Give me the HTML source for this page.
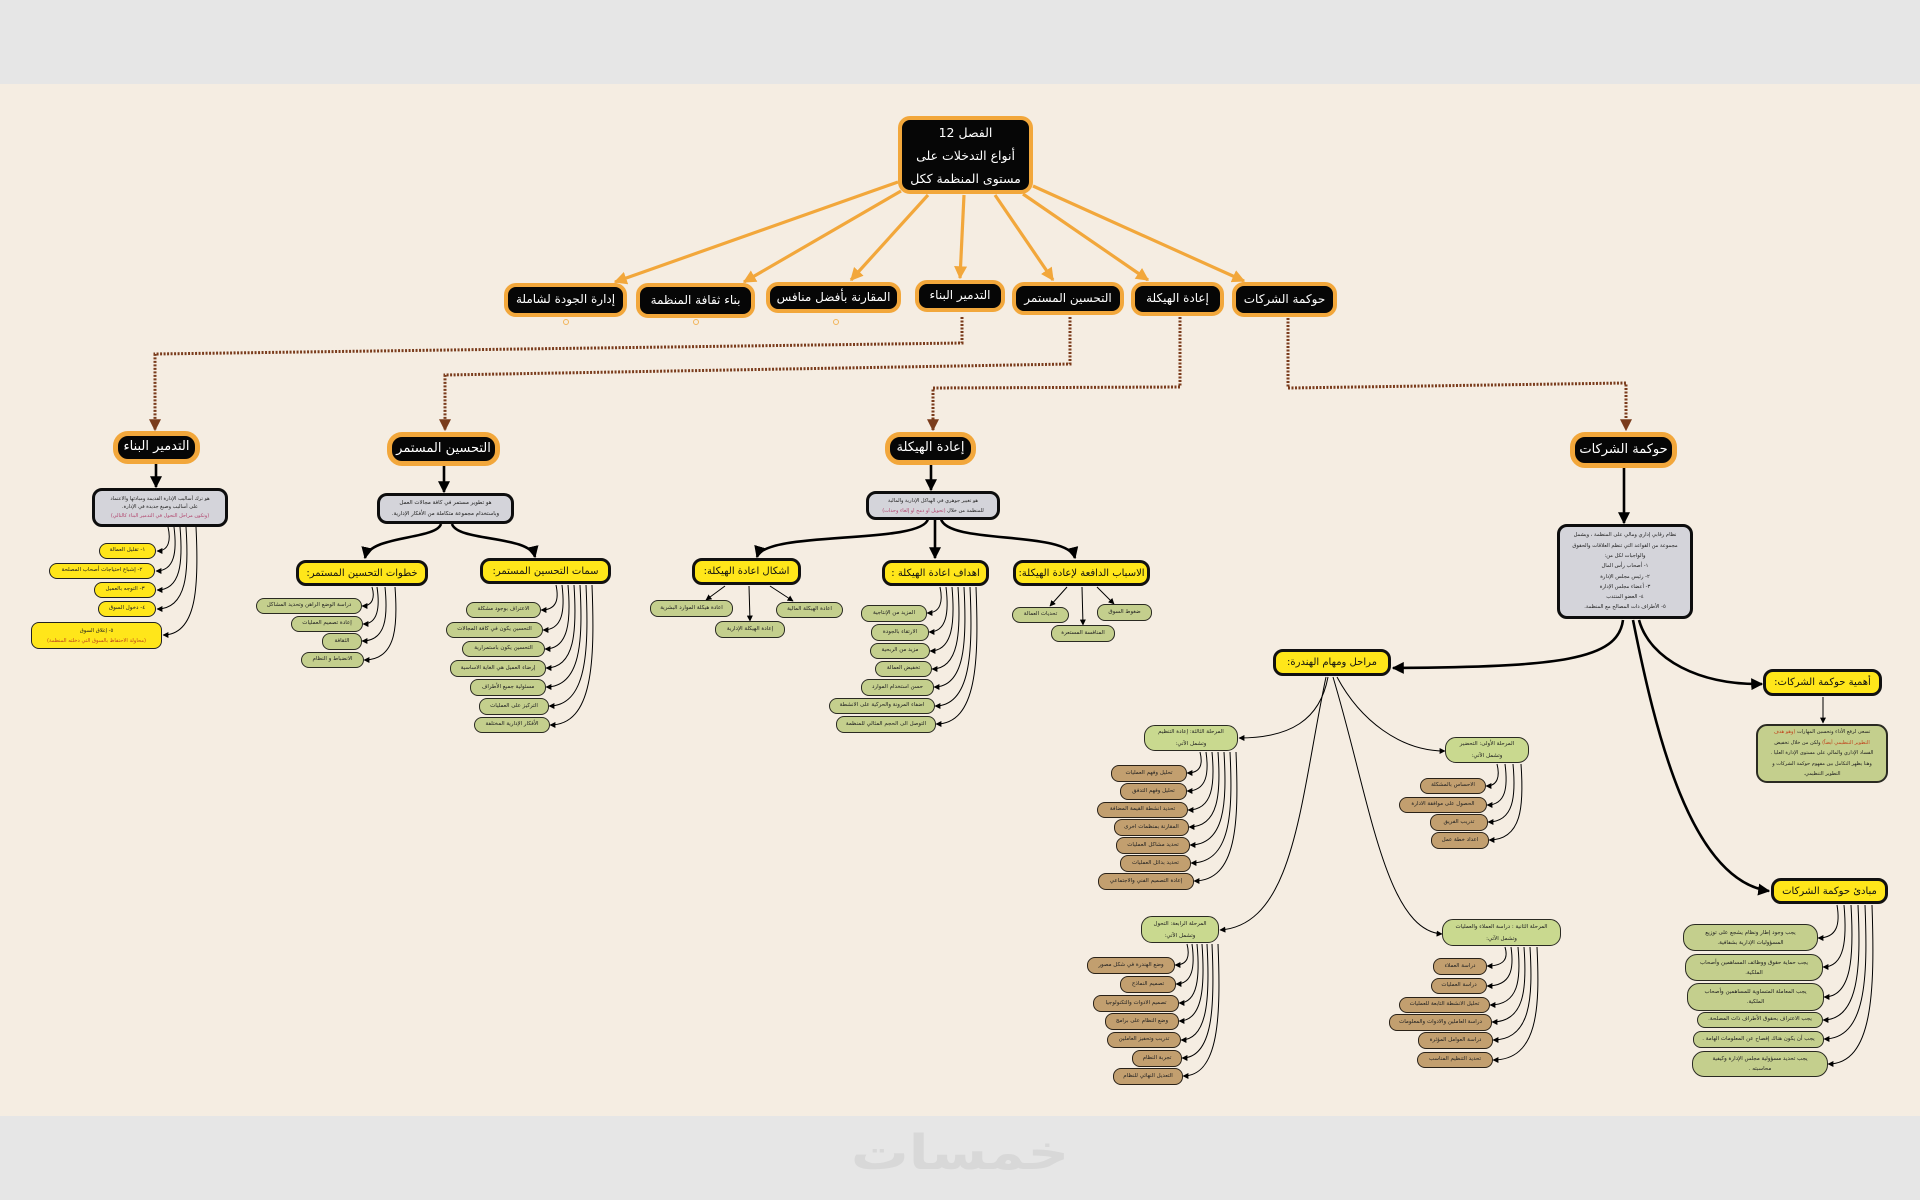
<!DOCTYPE html>
<html><head><meta charset="utf-8">
<style>
html,body{margin:0;padding:0;}
body{width:1920px;height:1200px;position:relative;overflow:hidden;background:#e6e6e6;font-family:"DejaVu Sans","Liberation Sans",sans-serif;}
#bg{position:absolute;left:0;top:84px;width:1920px;height:1032px;background:#f5ede2;}
svg{position:absolute;left:0;top:0;z-index:1}
.b{position:absolute;box-sizing:border-box;display:flex;align-items:center;justify-content:center;text-align:center;direction:rtl;z-index:2;line-height:1.3;white-space:nowrap}
.b>div{display:block;text-align:center;}
.k{background:#060606;border:4px solid #f2a73b;border-radius:12px;color:#fff;font-size:12px}
.k2{border-width:5px;border-radius:15px;font-size:13px}
.y{background:#ffe61a;border:3px solid #111;border-radius:10px;font-size:10px;color:#111}
.yi{background:#ffe61a;border:1.5px solid #222;border-radius:8px;font-size:5.5px;color:#222}
.g{background:#c4cf8d;border:1.5px solid #2a2a22;border-radius:8px;font-size:5.5px;color:#222}
.t{background:#c29f6f;border:1.5px solid #2a2218;border-radius:8px;font-size:5.5px;color:#222}
.s{background:#c9d98f;border:1.5px solid #2a2a22;border-radius:11px;font-size:5.5px;color:#222;line-height:12px}
.d{background:#d4d4da;border:3px solid #0d0d0d;border-radius:10px;font-size:5.5px;color:#222}
.r{color:#b2456e}
.o{color:#c0451e}
#wm{position:absolute;left:810px;top:1118px;width:300px;height:70px;text-align:center;font-size:48px;font-weight:bold;color:#d8d8d8;direction:rtl;transform:scaleX(1.2);line-height:70px;font-family:"DejaVu Sans",sans-serif}
</style></head>
<body>
<div id="bg"></div>
<div id="wm">خمسات</div>

<svg width="1920" height="1200" viewBox="0 0 1920 1200">
<defs>
<marker id="ao" viewBox="0 0 10 10" refX="9" refY="5" markerWidth="13" markerHeight="13" markerUnits="userSpaceOnUse" orient="auto"><path d="M0,0 L10,5 L0,10 z" fill="#f2a73b"/></marker>
<marker id="ab" viewBox="0 0 10 10" refX="9" refY="5" markerWidth="12" markerHeight="12" markerUnits="userSpaceOnUse" orient="auto"><path d="M0,0 L10,5 L0,10 z" fill="#000"/></marker>
<marker id="as" viewBox="0 0 10 10" refX="9" refY="5" markerWidth="6" markerHeight="6" markerUnits="userSpaceOnUse" orient="auto"><path d="M0,0 L10,5 L0,10 z" fill="#000"/></marker>
<marker id="abr" viewBox="0 0 10 10" refX="9" refY="5" markerWidth="12" markerHeight="12" markerUnits="userSpaceOnUse" orient="auto"><path d="M0,0 L10,5 L0,10 z" fill="#7a3c1c"/></marker>
</defs>

<g stroke="#f2a73b" stroke-width="3.2" fill="none" marker-end="url(#ao)">
<path d="M898 182 L615 282"/>
<path d="M901 191 L744 282"/>
<path d="M928 195 L851 280"/>
<path d="M964 195 L960 278"/>
<path d="M995 195 L1053 280"/>
<path d="M1023 194 L1148 280"/>
<path d="M1033 186 L1244 281"/>
</g>
<g fill="none" stroke="#f2b55a" stroke-width="1">
<circle cx="566" cy="322" r="2.5"/>
<circle cx="696" cy="322" r="2.5"/>
<circle cx="836" cy="322" r="2.5"/>
</g>

<g stroke="#7a3c1c" stroke-width="3" fill="none" stroke-dasharray="2 1.5" marker-end="url(#abr)">
<path d="M962 317 L962 343 L155 354 L155 430"/>
<path d="M1070 317 L1070 364 L445 375 L445 430"/>
<path d="M1180 317 L1180 387 L933 388 L933 430"/>
<path d="M1288 318 L1288 388 L1626 383 L1626 430"/>
</g>

<g stroke="#000" stroke-width="2.6" fill="none" marker-end="url(#ab)">
<path d="M156 464 L156 487"/>
<path d="M444 466 L444 492"/>
<path d="M931 465 L931 490"/>
<path d="M1624 468 L1624 523"/>
<path d="M441 524 C436 540,370 535,365 558"/>
<path d="M452 524 C458 542,530 535,535 557"/>
<path d="M928 519 C922 545,765 530,757 557"/>
<path d="M935 520 L935 558"/>
<path d="M941 519 C948 545,1068 530,1075 558"/>
<path d="M1623 620 C1618 660,1560 667,1393 668"/>
<path d="M1639 620 C1650 660,1700 685,1762 684"/>
<path d="M1633 620 C1655 730,1690 880,1769 891"/>
</g>

<g stroke="#000" stroke-width="1" fill="none" marker-end="url(#as)">
<path d="M725 586 L706 600"/>
<path d="M749 586 L750 621"/>
<path d="M770 586 L793 601"/>
<path d="M1067 587 L1050 606"/>
<path d="M1082 587 L1083 625"/>
<path d="M1097 587 L1114 604"/>
<path d="M1823 697 L1823 723"/>
<path d="M1328 677 C1320 720,1290 738,1239 738"/>
<path d="M1337 677 C1360 720,1400 751,1445 751"/>
<path d="M1326 677 C1300 800,1295 925,1220 930"/>
<path d="M1333 677 C1370 800,1385 930,1442 934"/>
</g>

<g stroke="#000" stroke-width="1" fill="none" marker-end="url(#as)">
<path d="M168 527 C171 540,169 551,157 551"/>
<path d="M174 527 C177 551,175 571,156 571"/>
<path d="M180 527 C183 562,181 590,157 590"/>
<path d="M186 527 C189 572,187 609,157 609"/>
<path d="M196 527 C199 586,197 635,163 635"/>

<path d="M372 587 C375 597,373 606,362 606"/>
<path d="M377 587 C380 607,378 624,363 624"/>
<path d="M385 587 C388 617,386 641,362 641"/>
<path d="M395 587 C398 627,396 660,364 660"/>

<path d="M556 585 C559 599,557 610,541 610"/>
<path d="M562 585 C565 610,563 630,543 630"/>
<path d="M568 585 C571 620,569 649,545 649"/>
<path d="M574 585 C577 631,575 668,546 668"/>
<path d="M580 585 C583 641,581 687,546 687"/>
<path d="M586 585 C589 651,587 706,549 706"/>
<path d="M592 585 C595 662,593 725,550 725"/>

<path d="M940 587 C943 601,941 613,927 613"/>
<path d="M946 587 C949 612,947 632,929 632"/>
<path d="M952 587 C955 622,953 651,930 651"/>
<path d="M958 587 C961 632,959 669,932 669"/>
<path d="M964 587 C967 642,965 687,934 687"/>
<path d="M970 587 C973 652,971 706,935 706"/>
<path d="M976 587 C979 662,977 724,936 724"/>

<path d="M1200 752 C1203 764,1201 773,1187 773"/>
<path d="M1206 752 C1209 773,1207 791,1187 791"/>
<path d="M1212 752 C1215 784,1213 810,1188 810"/>
<path d="M1218 752 C1221 793,1219 827,1189 827"/>
<path d="M1224 752 C1227 803,1225 845,1190 845"/>
<path d="M1230 752 C1233 813,1231 863,1191 863"/>
<path d="M1236 752 C1239 823,1237 881,1194 881"/>

<path d="M1497 764 C1500 776,1498 786,1486 786"/>
<path d="M1505 764 C1508 787,1506 805,1487 805"/>
<path d="M1513 764 C1516 796,1514 822,1488 822"/>
<path d="M1521 764 C1524 806,1522 840,1489 840"/>

<path d="M1187 944 C1190 956,1188 965,1175 965"/>
<path d="M1192 944 C1195 966,1193 984,1176 984"/>
<path d="M1197 944 C1200 976,1198 1003,1179 1003"/>
<path d="M1202 944 C1205 986,1203 1021,1179 1021"/>
<path d="M1207 944 C1210 997,1208 1040,1181 1040"/>
<path d="M1212 944 C1215 1007,1213 1058,1182 1058"/>
<path d="M1218 944 C1221 1017,1219 1076,1183 1076"/>

<path d="M1505 947 C1508 957,1506 966,1487 966"/>
<path d="M1511 947 C1514 968,1512 986,1487 986"/>
<path d="M1518 947 C1521 979,1519 1005,1490 1005"/>
<path d="M1524 947 C1527 988,1525 1022,1492 1022"/>
<path d="M1530 947 C1533 998,1531 1040,1493 1040"/>
<path d="M1537 947 C1540 1009,1538 1060,1493 1060"/>

<path d="M1837 905 C1840 923,1838 938,1818 938"/>
<path d="M1844 905 C1847 939,1845 967,1823 967"/>
<path d="M1851 905 C1854 956,1852 997,1824 997"/>
<path d="M1858 905 C1861 968,1859 1020,1823 1020"/>
<path d="M1865 905 C1868 979,1866 1039,1824 1039"/>
<path d="M1872 905 C1875 992,1873 1064,1828 1064"/>
</g>
</svg>

<div class="b k" style="left:898px;top:116px;width:135px;height:78px;font-size:12.5px;line-height:23px;"><div>الفصل 12<br>أنواع التدخلات على<br>مستوى المنظمة ككل</div></div>

<div class="b k" style="left:504px;top:283px;width:123px;height:34px;"><div>إدارة الجودة لشاملة</div></div>
<div class="b k" style="left:636px;top:283px;width:119px;height:35px;"><div>بناء ثقافة المنظمة</div></div>
<div class="b k" style="left:766px;top:282px;width:135px;height:31px;"><div>المقارنة بأفضل منافس</div></div>
<div class="b k" style="left:915px;top:280px;width:90px;height:32px;"><div>التدمير البناء</div></div>
<div class="b k" style="left:1012px;top:282px;width:112px;height:33px;"><div>التحسين المستمر</div></div>
<div class="b k" style="left:1131px;top:282px;width:93px;height:34px;"><div>إعادة الهيكلة</div></div>
<div class="b k" style="left:1232px;top:282px;width:105px;height:35px;"><div>حوكمة الشركات</div></div>

<div class="b k k2" style="left:113px;top:431px;width:87px;height:33px;"><div>التدمير البناء</div></div>
<div class="b k k2" style="left:387px;top:432px;width:113px;height:34px;"><div>التحسين المستمر</div></div>
<div class="b k k2" style="left:885px;top:432px;width:91px;height:33px;"><div>إعادة الهيكلة</div></div>
<div class="b k k2" style="left:1570px;top:432px;width:107px;height:36px;"><div>حوكمة الشركات</div></div>

<div class="b d" style="left:92px;top:488px;width:136px;height:39px;line-height:8.5px;font-size:5px;"><div>هو ترك أساليب الإدارة القديمة ومبادئها والاعتماد<br>على أساليب وصيغ جديدة في الإدارة.<br><span class="r">(وتكون مراحل التحول في التدمير البناء كالتالي)</span></div></div>
<div class="b d" style="left:377px;top:493px;width:137px;height:31px;line-height:11px;"><div>هو تطوير مستمر في كافة مجالات العمل<br>وباستخدام مجموعة متكاملة من الأفكار الإدارية.</div></div>
<div class="b d" style="left:866px;top:491px;width:134px;height:29px;line-height:10px;font-size:5px;"><div>هو تغيير جوهري في الهياكل الإدارية والمالية<br>للمنظمة من خلال <span class="r">(تحويل او دمج او إلغاء وحدات)</span></div></div>
<div class="b d" style="left:1557px;top:524px;width:136px;height:95px;line-height:10.3px;font-size:5.2px;"><div>نظام رقابي إداري ومالي على المنظمة ، ويشمل<br>مجموعة من القواعد التي تنظم العلاقات والحقوق<br>والواجبات لكل من:<br>١- أصحاب رأس المال<br>٢- رئيس مجلس الإدارة<br>٣- أعضاء مجلس الإدارة<br>٤- العضو المنتدب<br>٥- الأطراف ذات المصالح مع المنظمة.</div></div>

<div class="b yi" style="left:99px;top:543px;width:57px;height:16px;"><div>١- تقليل العمالة</div></div>
<div class="b yi" style="left:49px;top:563px;width:106px;height:16px;"><div>٢- إشباع احتياجات أصحاب المصلحة</div></div>
<div class="b yi" style="left:94px;top:582px;width:62px;height:16px;"><div>٣- التوجه بالعميل</div></div>
<div class="b yi" style="left:98px;top:601px;width:58px;height:16px;"><div>٤- دخول السوق</div></div>
<div class="b yi" style="left:31px;top:622px;width:131px;height:27px;line-height:10px;font-size:5.2px;"><div>٥- إغلاق السوق<br><span class="o">(محاولة الاحتفاظ بالسوق التي دخلته المنظمة)</span></div></div>

<div class="b y" style="left:296px;top:560px;width:132px;height:26px;"><div>خطوات التحسين المستمر:</div></div>
<div class="b y" style="left:480px;top:558px;width:131px;height:26px;"><div>سمات التحسين المستمر:</div></div>

<div class="b g" style="left:256px;top:598px;width:106px;height:16px;"><div>دراسة الوضع الراهن وتحديد المشاكل</div></div>
<div class="b g" style="left:291px;top:616px;width:72px;height:16px;"><div>إعادة تصميم العمليات</div></div>
<div class="b g" style="left:322px;top:633px;width:40px;height:17px;"><div>الثقافة</div></div>
<div class="b g" style="left:301px;top:652px;width:63px;height:16px;"><div>الانضباط و النظام</div></div>

<div class="b g" style="left:466px;top:602px;width:75px;height:16px;"><div>الاعتراف بوجود مشكلة</div></div>
<div class="b g" style="left:446px;top:622px;width:97px;height:16px;"><div>التحسين يكون في كافة المجالات</div></div>
<div class="b g" style="left:462px;top:641px;width:83px;height:16px;"><div>التحسين يكون باستمرارية</div></div>
<div class="b g" style="left:450px;top:660px;width:96px;height:17px;"><div>إرضاء العميل هي الغاية الاساسية</div></div>
<div class="b g" style="left:470px;top:679px;width:76px;height:17px;"><div>مسئولية جميع الأطراف</div></div>
<div class="b g" style="left:479px;top:698px;width:70px;height:17px;"><div>التركيز على العمليات</div></div>
<div class="b g" style="left:474px;top:717px;width:76px;height:16px;"><div>الأفكار الإدارية المختلفة</div></div>

<div class="b y" style="left:692px;top:558px;width:109px;height:27px;"><div>اشكال اعادة الهيكلة:</div></div>
<div class="b y" style="left:882px;top:560px;width:107px;height:26px;"><div>اهداف اعادة الهيكلة :</div></div>
<div class="b y" style="left:1013px;top:560px;width:137px;height:26px;"><div>الاسباب الدافعة لإعادة الهيكلة:</div></div>

<div class="b g" style="left:650px;top:600px;width:83px;height:17px;"><div>اعادة هيكلة الموارد البشرية</div></div>
<div class="b g" style="left:776px;top:602px;width:67px;height:16px;"><div>اعادة الهيكلة المالية</div></div>
<div class="b g" style="left:715px;top:621px;width:70px;height:17px;"><div>إعادة الهيكلة الإدارية</div></div>

<div class="b g" style="left:861px;top:605px;width:66px;height:17px;"><div>المزيد من الإنتاجية</div></div>
<div class="b g" style="left:871px;top:624px;width:58px;height:17px;"><div>الارتقاء بالجودة</div></div>
<div class="b g" style="left:870px;top:643px;width:60px;height:16px;"><div>مزيد من الربحية</div></div>
<div class="b g" style="left:875px;top:661px;width:57px;height:16px;"><div>تخفيض العمالة</div></div>
<div class="b g" style="left:861px;top:679px;width:73px;height:17px;"><div>حسن استخدام الموارد</div></div>
<div class="b g" style="left:829px;top:698px;width:106px;height:16px;"><div>اضفاء المرونة والحركية على الانشطة</div></div>
<div class="b g" style="left:836px;top:716px;width:100px;height:17px;"><div>التوصل الى الحجم المثالي للمنظمة</div></div>

<div class="b g" style="left:1012px;top:607px;width:57px;height:16px;"><div>تحديات العمالة</div></div>
<div class="b g" style="left:1097px;top:604px;width:55px;height:17px;"><div>ضغوط السوق</div></div>
<div class="b g" style="left:1051px;top:625px;width:64px;height:17px;"><div>المنافسة المستعرة</div></div>

<div class="b y" style="left:1273px;top:649px;width:118px;height:27px;"><div>مراحل ومهام الهندرة:</div></div>
<div class="b y" style="left:1763px;top:669px;width:119px;height:27px;"><div>أهمية حوكمة الشركات:</div></div>
<div class="b g" style="left:1756px;top:724px;width:132px;height:59px;line-height:10.5px;border-width:2px;border-radius:11px;font-size:5px;"><div>تسعى لرفع الأداء وتحسين المهارات <span class="o">(وهو هدف</span><br><span class="o">التطوير التنظيمي أيضاً)</span> ولكن من خلال تخفيض<br>الفساد الإداري والمالي على مستوى الإدارة العليا .<br>وهنا يظهر التكامل بين مفهوم حوكمة الشركات و<br>التطوير التنظيمي.</div></div>

<div class="b y" style="left:1771px;top:878px;width:117px;height:26px;"><div>مبادئ حوكمة الشركات</div></div>
<div class="b g" style="left:1683px;top:924px;width:135px;height:27px;line-height:10px;border-radius:12px;"><div>يجب وجود إطار ونظام يشجع على توزيع<br>المسؤوليات الإدارية بشفافية.</div></div>
<div class="b g" style="left:1685px;top:954px;width:138px;height:27px;line-height:10px;border-radius:12px;"><div>يجب حماية حقوق ووظائف المساهمين وأصحاب<br>الملكية.</div></div>
<div class="b g" style="left:1687px;top:983px;width:137px;height:28px;line-height:10px;border-radius:12px;"><div>يجب المعاملة المتساوية للمساهمين وأصحاب<br>الملكية.</div></div>
<div class="b g" style="left:1697px;top:1012px;width:126px;height:16px;"><div>يجب الاعتراف بحقوق الأطراف ذات المصلحة.</div></div>
<div class="b g" style="left:1693px;top:1031px;width:131px;height:17px;"><div>يجب أن يكون هناك إفصاح عن المعلومات الهامة .</div></div>
<div class="b g" style="left:1692px;top:1051px;width:136px;height:26px;line-height:10px;border-radius:12px;"><div>يجب تحديد مسؤولية مجلس الإدارة وكيفية<br>محاسبته .</div></div>

<div class="b s" style="left:1144px;top:725px;width:94px;height:26px;"><div>المرحلة الثالثة: إعادة التنظيم<br>وتشمل الآتي:</div></div>
<div class="b s" style="left:1445px;top:737px;width:84px;height:26px;"><div>المرحلة الأولى: التحضير<br>وتشمل الآتي:</div></div>
<div class="b s" style="left:1141px;top:916px;width:78px;height:27px;"><div>المرحلة الرابعة: التحول<br>وتشمل الآتي:</div></div>
<div class="b s" style="left:1442px;top:919px;width:119px;height:27px;"><div>المرحلة الثانية : دراسة العملاء والعمليات<br>وتشمل الآتي:</div></div>

<div class="b t" style="left:1111px;top:765px;width:76px;height:17px;"><div>تحليل وفهم العمليات</div></div>
<div class="b t" style="left:1120px;top:783px;width:67px;height:17px;"><div>تحليل وفهم التدفق</div></div>
<div class="b t" style="left:1097px;top:802px;width:91px;height:16px;"><div>تحديد انشطة القيمة المضافة</div></div>
<div class="b t" style="left:1114px;top:819px;width:75px;height:17px;"><div>المقارنة بمنظمات اخرى</div></div>
<div class="b t" style="left:1116px;top:837px;width:74px;height:17px;"><div>تحديد مشاكل العمليات</div></div>
<div class="b t" style="left:1120px;top:855px;width:71px;height:17px;"><div>تحديد بدائل العمليات</div></div>
<div class="b t" style="left:1098px;top:873px;width:96px;height:17px;"><div>إعادة التصميم الفني والاجتماعي</div></div>

<div class="b t" style="left:1420px;top:778px;width:66px;height:16px;"><div>الاحساس بالمشكلة</div></div>
<div class="b t" style="left:1399px;top:797px;width:88px;height:16px;"><div>الحصول على موافقة الادارة</div></div>
<div class="b t" style="left:1430px;top:814px;width:58px;height:17px;"><div>تدريب الفريق</div></div>
<div class="b t" style="left:1431px;top:832px;width:58px;height:17px;"><div>اعداد خطة عمل</div></div>

<div class="b t" style="left:1087px;top:957px;width:88px;height:17px;"><div>وضع الهندرة في شكل مصور</div></div>
<div class="b t" style="left:1120px;top:976px;width:56px;height:17px;"><div>تصميم النماذج</div></div>
<div class="b t" style="left:1093px;top:995px;width:86px;height:17px;"><div>تصميم الادوات والتكنولوجيا</div></div>
<div class="b t" style="left:1105px;top:1013px;width:74px;height:17px;"><div>وضع النظام على برامج</div></div>
<div class="b t" style="left:1107px;top:1032px;width:74px;height:16px;"><div>تدريب وتحفيز العاملين</div></div>
<div class="b t" style="left:1132px;top:1050px;width:50px;height:17px;"><div>تجربة النظام</div></div>
<div class="b t" style="left:1113px;top:1068px;width:70px;height:17px;"><div>التعديل النهائي للنظام</div></div>

<div class="b t" style="left:1433px;top:958px;width:54px;height:17px;"><div>دراسة العملاء</div></div>
<div class="b t" style="left:1431px;top:978px;width:56px;height:16px;"><div>دراسة العمليات</div></div>
<div class="b t" style="left:1399px;top:997px;width:91px;height:16px;"><div>تحليل الانشطة التابعة للعمليات</div></div>
<div class="b t" style="left:1389px;top:1014px;width:103px;height:17px;"><div>دراسة العاملين والادوات والمعلومات</div></div>
<div class="b t" style="left:1418px;top:1032px;width:75px;height:17px;"><div>دراسة العوامل المؤثرة</div></div>
<div class="b t" style="left:1417px;top:1052px;width:76px;height:16px;"><div>تحديد التنظيم المناسب</div></div>

</body></html>
